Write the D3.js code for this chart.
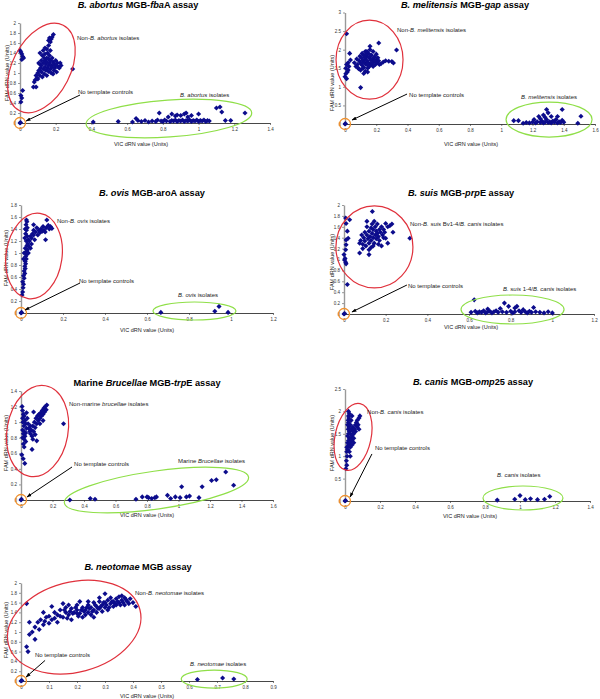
<!DOCTYPE html>
<html><head><meta charset="utf-8">
<script src="https://cdn.jsdelivr.net/npm/d3@7"></script>
<style>
body{margin:0;background:#fff}
svg{display:block}
text{font-family:"Liberation Sans",Arial,Helvetica,sans-serif}
</style>
</head><body>
<svg id="chart" width="600" height="699"></svg>
<script>
// ---------------- DATA ----------------
// B. abortus MGB-fbaA assay
const abortusNon = [[0,1.45],[0.005,1.42],[0.01,1.38],[0.015,1.33],[0.02,1.3],[0.01,1.27],[0.015,0.65],[0.005,0.55],[0.01,0.5],[0.005,0.42],
[0.075,0.72],[0.09,0.72],[0.08,0.82],[0.085,0.86],[0.095,0.9],[0.1,0.88],[0.09,0.95],
[0.1,1.0],[0.105,1.05],[0.11,0.95],[0.115,1.1],[0.12,1.15],[0.12,1.02],[0.125,0.92],[0.13,1.2],[0.13,1.08],[0.135,1.3],[0.135,0.98],[0.14,1.25],[0.14,1.12],[0.14,1.38],[0.145,1.05],[0.145,1.18],[0.15,1.3],[0.15,1.22],[0.15,0.95],[0.155,1.1],[0.155,1.4],[0.16,1.15],[0.16,1.28],[0.16,1.03],[0.165,1.35],[0.165,1.2],[0.17,1.08],[0.17,1.45],[0.17,1.25],[0.175,1.0],[0.175,1.15],[0.18,1.3],[0.18,1.12],[0.185,1.22],[0.185,0.98],[0.19,1.05],[0.19,1.18],[0.195,1.1],[0.2,1.15],[0.2,1.25],[0.205,1.02],[0.21,1.2],[0.215,1.12],[0.22,1.1],[0.225,1.2],[0.23,1.15],[0.12,1.25],[0.125,1.35],[0.11,1.18],[0.105,1.2],[0.112,1.4],[0.14,1.5],[0.15,1.48],[0.16,1.55],[0.13,1.45],
[0.16,1.65],[0.165,1.7],[0.175,1.68],[0.18,1.72],[0.187,1.77],[0.17,1.62],[0.295,1.08]];
const abortusTarget = [[0.41,0.02],[0.55,0.03],[0.63,0.02],[0.65,0.09],[0.66,0.05],[0.68,0.03],[0.7,0.05],[0.72,0.02],[0.74,0.04],[0.76,0.03],[0.77,0.06],[0.78,0.2],[0.79,0.04],[0.8,0.03],[0.81,0.06],[0.82,0.04],[0.83,0.12],[0.84,0.03],[0.85,0.18],[0.85,0.05],[0.86,0.04],[0.87,0.14],[0.87,0.06],[0.88,0.03],[0.89,0.05],[0.9,0.15],[0.9,0.04],[0.91,0.06],[0.92,0.18],[0.92,0.03],[0.93,0.05],[0.94,0.12],[0.94,0.04],[0.95,0.06],[0.96,0.15],[0.96,0.03],[0.97,0.05],[0.98,0.04],[0.99,0.06],[1.0,0.18],[1.0,0.03],[1.01,0.05],[1.02,0.04],[1.03,0.06],[1.04,0.03],[1.05,0.05],[1.06,0.04],[1.1,0.3],[1.12,0.32],[1.13,0.22],[1.15,0.05],[1.18,0.05],[1.26,0.2],[0.88,0.16],[0.93,0.2]];
const abortusNtc = [[0,0],[0.003,0.01]];
const abortusXTicks = [0,0.2,0.4,0.6,0.8,1,1.2,1.4];
const abortusYTicks = [0,0.2,0.4,0.6,0.8,1,1.2,1.4,1.6,1.8,2];

// B. melitensis MGB-gap assay
const melitensisNon = [[0.01,2.43],[0.03,1.9],[0.035,1.72],[0.02,1.65],[0.01,1.6],[0.005,1.5],[0.02,1.45],[0.015,1.4],[0,1.27],[0.01,1.22],[0.025,1.55],[0.005,1.35],
[0.06,1.65],[0.07,1.55],[0.075,1.75],[0.08,1.6],[0.085,1.5],[0.09,1.7],[0.095,1.82],[0.1,1.65],[0.1,1.45],[0.105,1.78],[0.11,1.58],[0.11,1.9],[0.115,1.7],[0.12,1.52],[0.12,1.85],[0.125,1.65],[0.13,1.75],[0.13,1.95],[0.135,1.6],[0.14,1.82],[0.14,1.7],[0.145,1.5],[0.15,1.9],[0.15,1.65],[0.155,1.78],[0.16,2.0],[0.16,1.58],[0.165,1.72],[0.17,1.85],[0.17,1.62],[0.175,1.75],[0.18,1.95],[0.18,1.55],[0.185,1.68],[0.19,1.8],[0.195,1.6],[0.2,1.72],[0.2,1.88],[0.205,1.65],[0.21,1.78],[0.215,1.7],[0.22,1.6],[0.145,1.4],[0.13,1.42],[0.16,2.09],[0.12,1.36],[0.09,1.48],
[0.125,1.8],[0.135,1.88],[0.145,1.62],[0.155,1.55],[0.165,1.85],[0.175,1.65],[0.105,1.62],[0.115,1.5],[0.19,1.7],[0.14,1.95],
[0.216,2.18],[0.245,1.67],[0.26,1.7],[0.28,1.69],[0.3,1.68],[0.31,1.64],[0.33,1.99],[0.1,0.98],[0.23,1.62]];
const melitensisTarget = [[1.08,0.09],[1.11,0.09],[1.14,0.02],[1.16,0.04],[1.18,0.03],[1.2,0.05],[1.21,0.12],[1.22,0.03],[1.23,0.06],[1.24,0.2],[1.25,0.04],[1.26,0.08],[1.27,0.24],[1.27,0.03],[1.28,0.05],[1.29,0.39],[1.29,0.12],[1.3,0.3],[1.3,0.04],[1.31,0.06],[1.32,0.2],[1.32,0.03],[1.33,0.08],[1.34,0.05],[1.35,0.12],[1.36,0.2],[1.36,0.03],[1.37,0.06],[1.38,0.04],[1.39,0.39],[1.39,0.1],[1.4,0.05],[1.49,0.02],[1.51,0.21],[1.25,0.14],[1.28,0.18]];
const melitensisNtc = [[0,0],[0.003,0.01]];
const melitensisXTicks = [0,0.2,0.4,0.6,0.8,1,1.2,1.4,1.6];
const melitensisYTicks = [0,0.5,1,1.5,2,2.5,3];

// B. ovis MGB-aroA assay
const ovisNon = [[0.005,0.3],[0.008,0.35],[0.01,0.42],[0.012,0.48],[0.008,0.52],[0.015,0.58],[0.012,0.62],[0.018,0.66],[0.015,0.7],[0.02,0.74],[0.018,0.78],[0.022,0.82],[0.02,0.86],[0.025,0.9],[0.022,0.94],[0.028,0.98],[0.025,1.02],[0.03,1.05],[0.02,1.08],[0.028,1.12],[0.032,1.15],[0.025,1.2],[0.035,1.22],[0.03,1.28],[0.022,1.32],[0.026,1.38],[0.03,1.42],[0.024,1.47],[0.028,1.52],[0.026,1.55],[0.015,1.0],[0.012,0.9],[0.035,1.0],[0.04,1.1],[0.018,1.25],[0.02,1.4],
[0.04,1.2],[0.045,1.28],[0.05,1.25],[0.055,1.32],[0.06,1.3],[0.06,1.38],[0.065,1.22],[0.07,1.35],[0.075,1.42],[0.08,1.3],[0.085,1.38],[0.09,1.34],[0.095,1.4],[0.1,1.36],[0.105,1.44],[0.11,1.38],[0.115,1.35],[0.12,1.42],[0.123,1.55],[0.13,1.46],[0.135,1.4],[0.14,1.44],[0.147,1.41],[0.117,1.22],[0.05,1.15],[0.045,1.08],[0.06,1.47]];
const ovisTarget = [[0.666,0.01],[0.923,0.03],[0.943,0.11],[0.986,0.01]];
const ovisNtc = [[0,0],[0.003,0.01]];
const ovisXTicks = [0,0.2,0.4,0.6,0.8,1,1.2];
const ovisYTicks = [0,0.2,0.4,0.6,0.8,1,1.2,1.4,1.6,1.8];

// B. suis MGB-prpE assay
const suisNon = [[0.008,1.76],[0.027,1.73],[0.01,1.66],[0.016,1.52],[0.02,1.39],[0.01,1.36],[0.01,1.27],[0.008,1.18],[0,1.09],[0.003,0.99],[0.008,0.95],[0.01,0.92],[0.016,0.54],[0.005,1.02],
[0.075,1.3],[0.08,1.35],[0.085,1.45],[0.09,1.28],[0.095,1.4],[0.1,1.5],[0.1,1.34],[0.105,1.25],[0.11,1.45],[0.11,1.6],[0.115,1.38],[0.12,1.52],[0.12,1.3],[0.125,1.42],[0.13,1.58],[0.13,1.35],[0.135,1.48],[0.135,1.65],[0.14,1.4],[0.14,1.55],[0.145,1.3],[0.145,1.7],[0.15,1.45],[0.15,1.6],[0.155,1.38],[0.155,1.52],[0.16,1.48],[0.16,1.65],[0.165,1.42],[0.17,1.55],[0.17,1.35],[0.175,1.5],[0.18,1.6],[0.18,1.25],[0.185,1.45],[0.19,1.4],[0.19,1.55],[0.195,1.5],[0.2,1.66],[0.2,1.39],[0.21,1.6],[0.22,1.62],[0.23,1.65],[0.235,1.5],[0.21,1.3],[0.13,1.22],[0.12,1.18],[0.136,1.88],[0.316,1.39],[0.075,1.12],[0.12,1.09],[0.09,1.2],[0.14,1.25],[0.165,1.28],[0.11,1.7]];
const suisTarget = [[0.61,0.03],[0.625,0.26],[0.63,0.05],[0.64,0.02],[0.65,0.04],[0.66,0.03],[0.67,0.06],[0.68,0.02],[0.69,0.04],[0.7,0.05],[0.71,0.02],[0.72,0.04],[0.73,0.06],[0.74,0.03],[0.75,0.1],[0.76,0.04],[0.77,0.2],[0.78,0.03],[0.79,0.14],[0.8,0.05],[0.81,0.02],[0.82,0.04],[0.83,0.14],[0.84,0.06],[0.85,0.03],[0.86,0.08],[0.87,0.04],[0.88,0.02],[0.89,0.05],[0.9,0.03],[0.91,0.12],[0.92,0.04],[0.94,0.03],[0.96,0.02],[0.98,0.04],[1.0,0.02],[0.69,0.09],[0.82,0.11]];
const suisNtc = [[0,0],[0.003,0.01]];
const suisXTicks = [0,0.2,0.4,0.6,0.8,1,1.2];
const suisYTicks = [0,0.2,0.4,0.6,0.8,1,1.2,1.4,1.6,1.8,2];

// Marine Brucellae MGB-trpE assay
const marineNon = [[0.007,1.2],[0.01,1.15],[0.015,1.1],[0.01,1.05],[0.02,1.08],[0.012,1.0],[0.018,0.95],[0.01,0.9],[0.02,0.88],[0.015,0.85],[0.025,0.82],[0.01,0.8],[0.02,0.78],[0.03,0.75],[0.015,0.72],[0.025,1.02],[0.03,0.98],[0.035,0.92],[0.03,0.86],[0.014,0.53],[0.024,0.47],[0.005,0.58],[0.02,0.68],[0.035,1.12],[0.04,1.05],
[0.045,0.98],[0.05,0.92],[0.055,0.88],[0.06,0.85],[0.065,0.9],[0.07,0.82],[0.075,0.95],[0.08,0.88],[0.085,1.0],[0.09,0.93],[0.095,1.05],[0.1,0.98],[0.105,1.08],[0.11,1.02],[0.115,1.1],[0.12,1.05],[0.125,1.12],[0.13,1.08],[0.135,1.15],[0.14,1.1],[0.145,1.18],[0.15,1.13],[0.155,1.2],[0.16,1.16],[0.164,1.22],[0.08,1.13],[0.1,0.76],[0.07,0.65],[0.27,0.98],[0.06,0.95],[0.09,0.84],[0.12,0.98],[0.14,1.02],[0.075,0.78]];
const marineTarget = [[0.31,0.0],[0.44,0.02],[0.47,0.01],[0.73,0.01],[0.77,0.04],[0.8,0.04],[0.81,0.03],[0.83,0.02],[0.85,0.03],[0.86,0.04],[0.93,0.06],[0.95,0.02],[0.98,0.04],[1.01,0.03],[1.02,0.17],[1.05,0.04],[1.07,0.05],[1.13,0.03],[1.15,0.17],[1.21,0.25],[1.24,0.26],[1.3,0.36],[1.35,0.19]];
const marineNtc = [[0,0],[0.003,0.01]];
const marineXTicks = [0,0.2,0.4,0.6,0.8,1,1.2,1.4,1.6];
const marineYTicks = [0,0.2,0.4,0.6,0.8,1,1.2,1.4];

// B. canis MGB-omp25 assay
const canisNon = [[0.005,0.72],[0.01,0.8],[0.008,0.9],[0.012,1.0],[0.01,1.1],[0.015,1.15],[0.01,1.2],[0.02,1.25],[0.015,1.3],[0.02,1.35],[0.025,1.4],[0.015,1.45],[0.02,1.5],[0.025,1.55],[0.018,1.6],[0.022,1.65],[0.015,1.7],[0.02,1.75],[0.018,1.8],[0.022,1.85],[0.02,1.9],[0.025,1.95],[0.02,2.0],[0.03,1.3],[0.035,1.4],[0.03,1.5],[0.04,1.45],[0.035,1.6],[0.04,1.35],[0.045,1.55],[0.05,1.5],[0.045,1.65],[0.05,1.4],[0.055,1.6],[0.06,1.7],[0.06,1.55],[0.065,1.75],[0.07,1.65],[0.07,1.8],[0.075,1.7],[0.08,1.85],[0.085,1.9],[0.08,1.6],[0.03,1.2],[0.04,1.25],[0.025,1.1],[0.03,1.7],[0.035,1.8],[0.04,1.9],[0.03,1.0],[0.05,1.3]];
const canisTarget = [[0.87,0.02],[0.97,0.04],[1.0,0.12],[1.03,0.03],[1.06,0.05],[1.1,0.03],[1.14,0.04],[1.17,0.1]];
const canisNtc = [[0,0],[0.003,0.01]];
const canisXTicks = [0,0.2,0.4,0.6,0.8,1,1.2,1.4];
const canisYTicks = [0,0.5,1,1.5,2,2.5];

// B. neotomae MGB assay
const neotomaeNon = [[0.02,1.58],[0.03,0.95],[0.04,1.0],[0.05,1.1],[0.06,1.2],[0.05,0.85],[0.07,1.25],[0.08,1.15],[0.09,1.3],[0.1,1.32],[0.11,1.52],[0.11,1.25],[0.12,1.4],[0.13,1.35],[0.14,1.45],[0.15,1.58],[0.15,1.3],[0.16,1.4],[0.17,1.35],[0.18,1.48],[0.18,1.25],[0.19,1.4],[0.2,1.45],[0.2,1.55],[0.21,1.38],[0.22,1.5],[0.22,1.3],[0.23,1.45],[0.24,1.55],[0.24,1.4],[0.25,1.5],[0.25,1.35],[0.26,1.6],[0.26,1.45],[0.27,1.52],[0.27,1.4],[0.28,1.62],[0.28,1.48],[0.29,1.55],[0.29,1.42],[0.3,1.78],[0.3,1.6],[0.3,1.5],[0.31,1.65],[0.31,1.45],[0.32,1.58],[0.32,1.7],[0.33,1.52],[0.33,1.62],[0.34,1.68],[0.34,1.55],[0.35,1.72],[0.35,1.6],[0.36,1.65],[0.37,1.7],[0.37,1.55],[0.38,1.62],[0.39,1.68],[0.41,1.52],[0.4,1.6],[0.17,1.55],[0.21,1.62],[0.23,1.35],[0.26,1.3],[0.13,1.2],[0.08,1.4],[0.03,1.2],[0.02,0.7],[0.025,0.6],
[0.065,1.05],[0.085,1.22],[0.1,1.18],[0.12,1.28],[0.14,1.32],[0.155,1.45],[0.165,1.28],[0.175,1.42],[0.185,1.38],[0.195,1.5],[0.205,1.32],[0.215,1.45],[0.225,1.42],[0.235,1.5],[0.245,1.48],[0.255,1.42],[0.265,1.55],[0.275,1.48],[0.285,1.52],[0.295,1.6],[0.305,1.55],[0.315,1.5],[0.325,1.62],[0.335,1.58],[0.345,1.62],[0.355,1.55],[0.365,1.6],[0.375,1.66],[0.385,1.58],[0.36,1.74],[0.28,1.7],[0.24,1.62],[0.2,1.38],[0.16,1.5]];
const neotomaeTarget = [[0.63,0.03],[0.72,0.06],[0.76,0.04]];
const neotomaeNtc = [[0,0],[0.003,0.01]];
const neotomaeXTicks = [0,0.1,0.2,0.3,0.4,0.5,0.6,0.7,0.8,0.9];
const neotomaeYTicks = [0,0.2,0.4,0.6,0.8,1,1.2,1.4,1.6,1.8,2];

// ---------------- PANELS (text + layout) ----------------
const panels = [
 {title:[["B. abortus",1]," MGB-",["fba",1],"A assay"], non:abortusNon, target:abortusTarget, ntc:abortusNtc, xt:abortusXTicks, yt:abortusYTicks,
  L:{left:20,right:270,bottom:123,top:23,tx:138,ty:8,xlx:141,xly:146,ylx:7,yly:73},
  red:{cx:0.12,cy:1.1,rx:29,ry:48,rot:27}, green:{cx:0.834,cy:0.09,rx:83,ry:18.5,rot:-4},
  nonLab:{x:0.319,y:1.66,t:["Non-",["B. abortus",1]," isolates"]}, tarLab:{x:0.896,y:0.52,t:[["B. abortus",1]," isolates"]},
  ntcLab:{x:0.325,y:0.58}, arrow:{x1:0.336,y1:0.56,x2:0.034,y2:0.04}},
 {title:[["B. melitensis",1]," MGB-",["gap",1]," assay"], non:melitensisNon, target:melitensisTarget, ntc:melitensisNtc, xt:melitensisXTicks, yt:melitensisYTicks,
  L:{left:345,right:595,bottom:124,top:12.5,tx:465,ty:8,xlx:471,xly:146,ylx:332,yly:83},
  red:{cx:0.157,cy:1.73,rx:33.5,ry:39.5,rot:0}, green:{cx:1.306,cy:0.12,rx:43,ry:17.5,rot:0},
  nonLab:{x:0.333,y:2.47,t:["Non-",["B. melitensis",1]," isolates"]}, tarLab:{x:1.126,y:0.67,t:[["B. melitensis",1]," isolates"]},
  ntcLab:{x:0.41,y:0.73}, arrow:{x1:0.397,y1:0.806,x2:0.045,y2:0.108}},
 {title:[["B. ovis",1]," MGB-aroA assay"], non:ovisNon, target:ovisTarget, ntc:ovisNtc, xt:ovisXTicks, yt:ovisYTicks,
  L:{left:21,right:273,bottom:313,top:205,tx:152,ty:196,xlx:147,xly:332,ylx:6,yly:258},
  red:{cx:0.062,cy:0.95,rx:28,ry:43,rot:8}, green:{cx:0.826,cy:0.033,rx:41.5,ry:9,rot:0},
  nonLab:{x:0.171,y:1.5,t:["Non-",["B. ovis",1]," isolates"]}, tarLab:{x:0.748,y:0.27,t:[["B. ovis",1]," isolates"]},
  ntcLab:{x:0.276,y:0.5}, arrow:{x1:0.281,y1:0.5,x2:0.019,y2:0.05}},
 {title:[["B. suis",1]," MGB-",["prp",1],"E assay"], non:suisNon, target:suisTarget, ntc:suisNtc, xt:suisXTicks, yt:suisYTicks,
  L:{left:344,right:594,bottom:314,top:205,tx:461,ty:196,xlx:471,xly:329,ylx:332,yly:262},
  red:{cx:0.146,cy:1.23,rx:38.5,ry:41,rot:0}, green:{cx:0.809,cy:0.083,rx:51.5,ry:14.5,rot:0},
  nonLab:{x:0.317,y:1.615,t:["Non-",["B. suis",1]," Bv1-4/",["B. canis",1]," isolates"]}, tarLab:{x:0.763,y:0.42,t:[["B. suis",1]," 1-4/",["B. canis",1]," isolates"]},
  ntcLab:{x:0.307,y:0.477}, arrow:{x1:0.302,y1:0.532,x2:0.038,y2:0.037}},
 {title:["Marine ",["Brucellae",1]," MGB-",["trp",1],"E assay"], non:marineNon, target:marineTarget, ntc:marineNtc, xt:marineXTicks, yt:marineYTicks,
  L:{left:21,right:273,bottom:500,top:391,tx:147,ty:386,xlx:147,xly:517,ylx:6,yly:443},
  red:{cx:0.105,cy:0.886,rx:30.5,ry:46,rot:10}, green:{cx:0.86,cy:0.128,rx:93,ry:19,rot:-8},
  nonLab:{x:0.305,y:1.207,t:["Non-marine ",["brucellae",1]," isolates"]}, tarLab:{x:0.997,y:0.475,t:["Marine ",["Brucellae",1]," isolates"]},
  ntcLab:{x:0.337,y:0.436}, arrow:{x1:0.324,y1:0.424,x2:0.038,y2:0.0385}},
 {title:[["B. canis",1]," MGB-",["omp",1],"25 assay"], non:canisNon, target:canisTarget, ntc:canisNtc, xt:canisXTicks, yt:canisYTicks,
  L:{left:345,right:590,bottom:501,top:389,tx:473,ty:385,xlx:470,xly:518,ylx:332,yly:443},
  red:{cx:0.046,cy:1.43,rx:18,ry:34,rot:12}, green:{cx:1.017,cy:0.067,rx:40,ry:12,rot:0},
  nonLab:{x:0.126,y:1.94,t:["Non-",["B. canis",1]," isolates"]}, tarLab:{x:0.869,y:0.536,t:[["B. canis",1]," isolates"]},
  ntcLab:{x:0.171,y:1.14}, arrow:{x1:0.154,y1:1.05,x2:0.029,y2:0.09}},
 {title:[["B. neotomae",1]," MGB assay"], non:neotomaeNon, target:neotomaeTarget, ntc:neotomaeNtc, xt:neotomaeXTicks, yt:neotomaeYTicks,
  L:{left:21,right:273,bottom:681,top:583,tx:138,ty:570,xlx:147,xly:697.5,ylx:6,yly:630},
  red:{cx:0.19,cy:1.1,rx:68,ry:45,rot:-15}, green:{cx:0.69,cy:0.04,rx:33,ry:9,rot:0},
  nonLab:{x:0.407,y:1.76,t:["Non-",["B. neotomae",1]," isolates"]}, tarLab:{x:0.604,y:0.3,t:[["B. neotomae",1]," isolates"]},
  ntcLab:{x:0.05,y:0.5}, arrow:{x1:0.086,y1:0.42,x2:0.018,y2:0.08}}
];

// ---------------- DRAW ----------------
const svg = d3.select('#chart');
svg.append('rect').attr('width',600).attr('height',699).attr('fill','#fff');
const defs = svg.append('defs');
defs.append('marker').attr('id','ah').attr('viewBox','0 0 10 10').attr('refX',9).attr('refY',5)
  .attr('markerWidth',5).attr('markerHeight',5).attr('orient','auto')
  .append('path').attr('d','M0,1.5L10,5L0,8.5z').attr('fill','#000');

const fmt = d3.format('~g');
const pointColor = '#0c0c8c';
const sym = d3.symbol().type(d3.symbolSquare).size(13)();

function rich(sel, parts){
  parts.forEach(p=>{
    if (Array.isArray(p)) sel.append('tspan').attr('font-style','italic').text(p[0]);
    else sel.append('tspan').text(p);
  });
}

panels.forEach(p=>{
  const L = p.L;
  const x = d3.scaleLinear().domain([0, d3.max(p.xt)]).range([L.left, L.right]);
  const y = d3.scaleLinear().domain([0, d3.max(p.yt)]).range([L.bottom, L.top]);
  const g = svg.append('g');

  const t = g.append('text').attr('x',L.tx).attr('y',L.ty).attr('text-anchor','middle')
    .attr('font-size',9.2).attr('font-weight','bold').attr('fill','#000');
  rich(t, p.title);

  const xa = g.append('g').attr('transform',`translate(0,${L.bottom})`)
    .call(d3.axisBottom(x).tickValues(p.xt).tickFormat(fmt).tickSize(2).tickSizeOuter(0).tickPadding(2.5));
  xa.select('.domain').attr('stroke','#333').attr('stroke-width',0.9);
  xa.selectAll('.tick line').attr('stroke','#333').attr('stroke-width',0.6);
  xa.selectAll('.tick text').attr('font-size',4.5).attr('fill','#333').attr('font-family','"Liberation Sans",Arial,sans-serif');

  const ya = g.append('g').attr('transform',`translate(${L.left},0)`)
    .call(d3.axisLeft(y).tickValues(p.yt).tickFormat(fmt).tickSize(2).tickSizeOuter(0).tickPadding(2));
  ya.select('.domain').attr('stroke','#999').attr('stroke-width',1.4);
  ya.selectAll('.tick line').attr('stroke','#555').attr('stroke-width',0.6);
  ya.selectAll('.tick text').attr('font-size',4.5).attr('fill','#333').attr('font-family','"Liberation Sans",Arial,sans-serif');

  g.append('text').attr('x',L.xlx).attr('y',L.xly).attr('text-anchor','middle')
    .attr('font-size',5.5).attr('fill','#222').text('VIC dRN value (Units)');
  g.append('text').attr('transform',`translate(${L.ylx},${L.yly}) rotate(-90)`).attr('text-anchor','middle')
    .attr('dy','0.35em').attr('font-size',5.5).attr('fill','#222').text('FAM dRN value (Units)');

  const all = p.non.concat(p.target, p.ntc);
  g.append('g').selectAll('path').data(all).join('path')
    .attr('d', sym)
    .attr('transform', d=>`translate(${x(d[0])},${y(d[1])}) rotate(45)`)
    .attr('fill', pointColor);

  [[p.red,'#e0313c'],[p.green,'#8fdf48']].forEach(([e,c])=>{
    g.append('ellipse').attr('cx',0).attr('cy',0).attr('rx',e.rx).attr('ry',e.ry)
      .attr('transform',`translate(${x(e.cx)},${y(e.cy)}) rotate(${e.rot})`)
      .attr('fill','none').attr('stroke',c).attr('stroke-width',1.2);
  });
  g.append('circle').attr('cx',x(0)).attr('cy',y(0)).attr('r',5.5)
    .attr('fill','none').attr('stroke','#f0902c').attr('stroke-width',1.3);

  g.append('line').attr('x1',x(p.arrow.x1)).attr('y1',y(p.arrow.y1)).attr('x2',x(p.arrow.x2)).attr('y2',y(p.arrow.y2))
    .attr('stroke','#000').attr('stroke-width',1).attr('marker-end','url(#ah)');

  const nl = g.append('text').attr('x',x(p.nonLab.x)).attr('y',y(p.nonLab.y)).attr('font-size',6).attr('fill','#222');
  rich(nl, p.nonLab.t);
  const tl = g.append('text').attr('x',x(p.tarLab.x)).attr('y',y(p.tarLab.y)).attr('font-size',6).attr('fill','#222');
  rich(tl, p.tarLab.t);
  g.append('text').attr('x',x(p.ntcLab.x)).attr('y',y(p.ntcLab.y)).attr('font-size',6).attr('fill','#222').text('No template controls');
});
</script>
</body></html>
